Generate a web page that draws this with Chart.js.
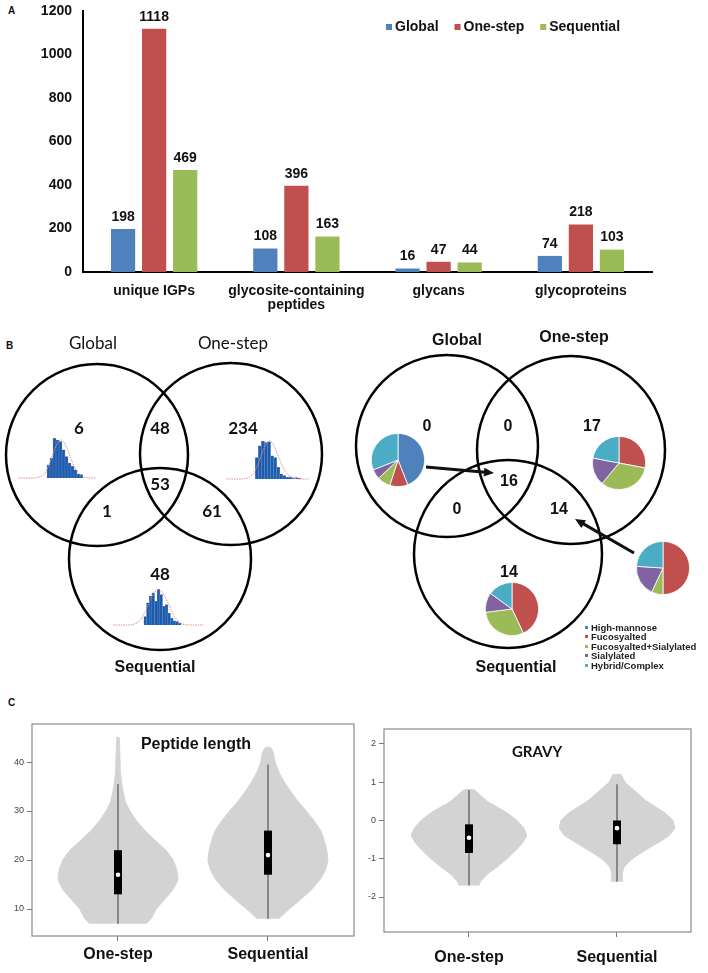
<!DOCTYPE html>
<html>
<head>
<meta charset="utf-8">
<title>Glycopeptide enrichment comparison</title>
<script src="https://cdn.jsdelivr.net/npm/chart.js@4.4.1/dist/chart.umd.min.js"></script>
<style>
  body { margin: 0; background: #fff; }
  #page { position: relative; width: 708px; height: 973px; overflow: hidden; }
  canvas { position: absolute; }
  .panel { position: absolute; font: bold 10px "Liberation Sans", Arial, sans-serif; color: #111; }
  #pieLegend { position: absolute; left: 585px; top: 623px; font: bold 9.5px "Liberation Sans", Arial, sans-serif; line-height: 9.4px; color: #222; white-space: nowrap; }
  #pieLegend i { display: inline-block; width: 3px; height: 3px; margin-right: 3px; vertical-align: 2px; }
</style>
</head>
<body>
<div id="page">
  <div class="panel" style="left:8px;top:5px">A</div>
  <div class="panel" style="left:6px;top:340px">B</div>
  <div class="panel" style="left:8px;top:697px">C</div>

  <canvas id="chartA" width="708" height="322" style="left:0;top:0"></canvas>

  <canvas id="vennLeft" width="354" height="365" style="left:0;top:325px"></canvas>
  <canvas id="histGlobal" width="81" height="44" style="left:17px;top:435px"></canvas>
  <canvas id="histOneStep" width="85" height="44" style="left:225px;top:436px"></canvas>
  <canvas id="histSequential" width="93" height="40" style="left:112px;top:586px"></canvas>

  <canvas id="vennRight" width="354" height="365" style="left:354px;top:325px"></canvas>
  <canvas id="pieGlobal" width="54" height="54" style="left:371px;top:433px"></canvas>
  <canvas id="pieOneStep" width="54" height="54" style="left:592px;top:436px"></canvas>
  <canvas id="pieShared" width="54" height="54" style="left:636px;top:541px"></canvas>
  <canvas id="pieSequential" width="54" height="54" style="left:485px;top:582px"></canvas>
  <div id="pieLegend"></div>

  <canvas id="violinLength" width="358" height="273" style="left:0;top:700px"></canvas>
  <canvas id="violinGravy" width="354" height="273" style="left:354px;top:700px"></canvas>
</div>

<script>
// ---- A: identifications per enrichment method
const categories = ['unique IGPs', ['glycosite-containing', 'peptides'], 'glycans', 'glycoproteins'];
const methods = ['Global', 'One-step', 'Sequential'];
const methodColors = ['#4F81BD', '#C0504D', '#9BBB59'];
const globalCounts = [198, 108, 16, 74];
const oneStepCounts = [1118, 396, 47, 218];
const sequentialCounts = [469, 163, 44, 103];
const countTicks = [0, 200, 400, 600, 800, 1000, 1200];

// ---- B: overlaps (Global only, Global&One-step, One-step only, all three, Global&Sequential, One-step&Sequential, Sequential only)
const vennSets = ['Global', 'One-step', 'Sequential'];
const igpOverlap = [6, 48, 234, 53, 1, 61, 48];
const glycanOverlap = [0, 0, 17, 16, 0, 14, 14];

// mass-error histograms (bar counts start at binStart) and fitted curve
const globalHistBins = [40, 60, 120, 115, 110, 85, 65, 45, 35, 25, 12, 10];
const globalHistCurve = [0, 0, 0, 0, 0, 0, 1, 3, 8, 18, 36, 60, 85, 105, 115, 110, 93, 70, 47, 28, 15, 7, 3, 1, 0, 0, 0];
const oneStepHistBins = [65, 100, 115, 110, 112, 70, 65, 35, 15, 10, 5, 6, 2, 4, 3];
const oneStepHistCurve = [0, 0, 0, 0, 0, 0, 1, 3, 8, 18, 36, 60, 85, 105, 115, 110, 93, 70, 47, 28, 15, 7, 3, 1, 0, 0, 0, 0];
const seqHistBins = [25, 65, 85, 95, 70, 105, 90, 55, 60, 35, 20, 12, 10, 5];
const seqHistCurve = [0, 0, 0, 0, 0, 0, 0, 1, 3, 7, 14, 25, 40, 58, 75, 90, 100, 104, 100, 90, 75, 58, 40, 25, 14, 7, 3, 1, 0, 0, 0, 0, 0, 0, 0];

// glycan type composition (%)
const glycanTypes = ['High-mannose', 'Fucosyalted', 'Fucosyalted+Sialylated', 'Sialylated', 'Hybrid/Complex'];
const glycanTypeColors = ['#4F81BD', '#C0504D', '#9BBB59', '#8064A2', '#4BACC6'];
const globalGlycanMix = [44, 11, 8, 6, 31];
const oneStepGlycanMix = [0, 28, 33, 17, 22];
const sharedGlycanMix = [0, 50, 7, 19, 24];
const seqGlycanMix = [0, 43, 30, 12, 15];

// ---- C: violin profiles (level, relative half width) and box stats [min, q1, median, q3, upper whisker]
const violinGroups = ['One-step', 'Sequential'];
const lengthOneStepLevels = [7, 8, 10, 12, 14, 16, 18, 20, 22, 24, 26, 28, 30, 32, 35, 38, 42, 45];
const lengthOneStepWidths = [0.47, 0.55, 0.64, 0.78, 0.92, 1.0, 0.98, 0.92, 0.8, 0.62, 0.45, 0.31, 0.2, 0.12, 0.07, 0.04, 0.03, 0.02];
const lengthSeqLevels = [8, 9, 10, 12, 14, 16, 18, 20, 22, 24, 26, 28, 30, 32, 34, 36, 38, 40, 42, 43];
const lengthSeqWidths = [0.18, 0.26, 0.36, 0.55, 0.73, 0.87, 0.96, 1.0, 0.98, 0.94, 0.88, 0.77, 0.64, 0.5, 0.38, 0.27, 0.18, 0.12, 0.09, 0.04];
const lengthOneStepBox = [7, 13, 17, 22, 35.5];
const lengthSeqBox = [8, 17, 21, 26, 39.5];
const lengthTicks = [10, 20, 30, 40];
const gravyOneStepLevels = [-1.7, -1.6, -1.4, -1.2, -1.0, -0.8, -0.6, -0.4, -0.2, 0, 0.2, 0.5, 0.8];
const gravyOneStepWidths = [0.17, 0.2, 0.32, 0.5, 0.66, 0.8, 0.92, 1.0, 0.95, 0.83, 0.66, 0.32, 0.09];
const gravySeqLevels = [-1.6, -1.4, -1.2, -1.0, -0.8, -0.6, -0.4, -0.2, 0, 0.2, 0.5, 0.8, 1.0, 1.2];
const gravySeqWidths = [0.1, 0.09, 0.13, 0.27, 0.47, 0.69, 0.9, 1.0, 0.97, 0.83, 0.52, 0.29, 0.14, 0.07];
const gravyOneStepBox = [-1.7, -0.85, -0.45, -0.1, 0.8];
const gravySeqBox = [-1.6, -0.62, -0.2, 0, 0.95];
const gravyTicks = [-2, -1, 0, 1, 2];

const ARIAL = '"Liberation Sans", Arial, sans-serif';
Chart.defaults.animation = false;
Chart.defaults.responsive = false;
Chart.defaults.events = [];
Chart.defaults.font.family = ARIAL;
Chart.defaults.plugins.legend.display = false;
Chart.defaults.plugins.tooltip.enabled = false;

// ---------- A
const barValueLabels = {
  id: 'barValueLabels',
  afterDatasetsDraw(chart) {
    const {ctx} = chart;
    ctx.save();
    ctx.font = 'bold 14px ' + ARIAL;
    ctx.fillStyle = '#111';
    ctx.textAlign = 'center';
    ctx.textBaseline = 'bottom';
    chart.data.datasets.forEach((ds, i) => {
      chart.getDatasetMeta(i).data.forEach((bar, j) => ctx.fillText(ds.data[j], bar.x, bar.y - 5));
    });
    ctx.restore();
  }
};

// legend sits inside the plot, top right
const inlineLegend = {
  id: 'inlineLegend',
  afterDraw(chart) {
    const {ctx} = chart;
    let x = 386;
    const y = 27;
    ctx.save();
    ctx.font = 'bold 14px ' + ARIAL;
    ctx.textBaseline = 'middle';
    ctx.textAlign = 'left';
    chart.data.datasets.forEach(ds => {
      ctx.fillStyle = ds.backgroundColor;
      ctx.fillRect(x, y - 3, 6, 6);
      x += 9;
      ctx.fillStyle = '#111';
      ctx.fillText(ds.label, x, y);
      x += ctx.measureText(ds.label).width + 16;
    });
    ctx.restore();
  }
};

new Chart(document.getElementById('chartA'), {
  type: 'bar',
  data: {
    labels: categories,
    datasets: [globalCounts, oneStepCounts, sequentialCounts].map((d, i) => ({
      label: methods[i], data: d, backgroundColor: methodColors[i],
      categoryPercentage: 0.655, barPercentage: 0.78
    }))
  },
  options: {
    layout: { padding: { left: 0, right: 56, top: 11, bottom: 0 } },
    scales: {
      x: {
        grid: { display: false, drawTicks: false },
        border: { color: '#000', width: 2 },
        ticks: { color: '#111', padding: 12, maxRotation: 0, font: { size: 14, weight: 'bold', lineHeight: 1.0 } },
        afterFit: s => { s.height = 50; }
      },
      y: {
        min: 0, max: 1200,
        afterBuildTicks: s => { s.ticks = countTicks.map(v => ({ value: v })); },
        grid: { display: false, drawTicks: false },
        border: { color: '#000', width: 2 },
        ticks: { color: '#111', padding: 11, font: { size: 14, weight: 'bold' }, callback: v => String(v) },
        afterFit: s => { s.width = 83; s.paddingTop = 0; s.paddingBottom = 0; }
      }
    }
  },
  plugins: [barValueLabels, inlineLegend]
});

// ---------- B: Venn diagrams
function drawArrow(ctx, from, to) {
  const ang = Math.atan2(to[1] - from[1], to[0] - from[0]);
  const head = 11;
  ctx.lineWidth = 3;
  ctx.beginPath();
  ctx.moveTo(from[0], from[1]);
  ctx.lineTo(to[0] - head * 0.8 * Math.cos(ang), to[1] - head * 0.8 * Math.sin(ang));
  ctx.stroke();
  ctx.beginPath();
  ctx.moveTo(to[0], to[1]);
  ctx.lineTo(to[0] - head * Math.cos(ang - 0.42), to[1] - head * Math.sin(ang - 0.42));
  ctx.lineTo(to[0] - head * Math.cos(ang + 0.42), to[1] - head * Math.sin(ang + 0.42));
  ctx.closePath();
  ctx.fill();
}

function vennLabels(cfg) {
  return {
    id: 'vennLabels',
    afterDatasetsDraw(chart) {
      const {ctx, scales: {x, y}} = chart;
      const px = p => [x.getPixelForValue(p[0]), y.getPixelForValue(p[1])];
      ctx.save();
      ctx.fillStyle = '#111';
      ctx.strokeStyle = '#111';
      ctx.textAlign = 'center';
      ctx.textBaseline = 'middle';
      (cfg.arrows || []).forEach(a => drawArrow(ctx, px(a[0]), px(a[1])));
      vennSets.forEach((name, i) => {
        ctx.font = cfg.nameFonts[i];
        const [X, Y] = px(cfg.namePos[i]);
        ctx.fillText(name, X, Y);
      });
      ctx.font = cfg.countFont;
      cfg.counts.forEach((n, i) => {
        const [X, Y] = px(cfg.countPos[i]);
        ctx.fillText(String(n), X, Y);
      });
      ctx.restore();
    }
  };
}

function vennChart(id, frame, cfg) {
  new Chart(document.getElementById(id), {
    type: 'bubble',
    data: {
      datasets: [{
        data: cfg.circles.map((c, i) => ({ x: c[0], y: c[1], r: cfg.radii[i] })),
        backgroundColor: 'rgba(0,0,0,0)', borderColor: '#000', borderWidth: 2.5, clip: false
      }]
    },
    options: {
      layout: { padding: 0, autoPadding: false },
      scales: {
        x: { display: false, min: frame[0], max: frame[0] + frame[2] },
        y: { display: false, min: frame[1], max: frame[1] + frame[3], reverse: true }
      }
    },
    plugins: [vennLabels(cfg)]
  });
}

vennChart('vennLeft', [0, 325, 354, 365], {
  circles: [[97, 455], [231, 454], [160, 559]],
  radii: [91, 91, 91],
  namePos: [[93, 344], [233, 344], [155, 668]],
  nameFonts: ['17px Lato', '17px Lato', 'bold 16px ' + ARIAL],
  counts: igpOverlap,
  countPos: [[79, 429], [160, 429], [243, 429], [160, 485], [107, 512], [212, 512], [160, 575]],
  countFont: 'bold 17px Lato'
});

vennChart('vennRight', [354, 325, 354, 365], {
  circles: [[447, 446], [571, 450], [508, 554]],
  radii: [91, 94, 94],
  namePos: [[457, 341], [574, 338], [516, 668]],
  nameFonts: ['bold 16px ' + ARIAL, 'bold 16px ' + ARIAL, 'bold 16px ' + ARIAL],
  counts: glycanOverlap,
  countPos: [[427, 427], [508, 427], [592, 427], [509, 482], [457, 510], [559, 510], [509, 573]],
  countFont: 'bold 16px ' + ARIAL,
  arrows: [[[426, 467], [494, 473]], [[634, 553], [575, 519]]]
});

function histChart(id, bins, binStart, curve, yMax) {
  const labels = curve.map((_, i) => i);
  const bars = labels.map(i => (i >= binStart && i < binStart + bins.length) ? bins[i - binStart] : null);
  new Chart(document.getElementById(id), {
    data: {
      labels,
      datasets: [
        { type: 'line', data: curve, borderColor: '#E88A8A', borderWidth: 1, borderDash: [1.5, 1],
          pointRadius: 0, cubicInterpolationMode: 'monotone', clip: false },
        { type: 'bar', data: bars, backgroundColor: '#1E5BAA', borderColor: '#5E8FD0', borderWidth: 0.5,
          barPercentage: 1, categoryPercentage: 1 }
      ]
    },
    options: {
      layout: { padding: 0 },
      scales: { x: { display: false }, y: { display: false, min: -3, max: yMax } }
    }
  });
}
histChart('histGlobal', globalHistBins, 10, globalHistCurve, 130);
histChart('histOneStep', oneStepHistBins, 10, oneStepHistCurve, 130);
histChart('histSequential', seqHistBins, 12, seqHistCurve, 115);

function pieChart(id, mix) {
  new Chart(document.getElementById(id), {
    type: 'pie',
    data: { labels: glycanTypes, datasets: [{ data: mix, backgroundColor: glycanTypeColors, borderColor: '#fff', borderWidth: 0.8 }] },
    options: { layout: { padding: 0 } }
  });
}
pieChart('pieGlobal', globalGlycanMix);
pieChart('pieOneStep', oneStepGlycanMix);
pieChart('pieShared', sharedGlycanMix);
pieChart('pieSequential', seqGlycanMix);

document.getElementById('pieLegend').innerHTML = glycanTypes
  .map((t, i) => `<div><i style="background:${glycanTypeColors[i]}"></i>${t}</div>`).join('');

// ---------- C: violin plots
function plotDecor(title, tx, ty, font) {
  return {
    id: 'plotDecor',
    afterDraw(chart) {
      const {ctx, chartArea: a} = chart;
      ctx.save();
      ctx.strokeStyle = '#8a8a8a';
      ctx.lineWidth = 1.2;
      ctx.strokeRect(a.left, a.top, a.right - a.left, a.bottom - a.top);
      ctx.fillStyle = '#111';
      ctx.font = font;
      ctx.textAlign = 'center';
      ctx.textBaseline = 'middle';
      ctx.fillText(title, tx, ty);
      ctx.restore();
    }
  };
}

function violinChart(id, cfg) {
  const datasets = [];
  cfg.groups.forEach((g, i) => {
    const c = i + 1;
    const [lo, q1, med, q3, hi] = g.box;
    const right = g.levels.map((v, k) => ({ x: c + g.widths[k] * cfg.maxWidth, y: v }));
    const left = g.levels.map((v, k) => ({ x: c - g.widths[k] * cfg.maxWidth, y: v })).reverse();
    datasets.push({ data: [{ x: c, y: med }], pointRadius: 2.3, pointBackgroundColor: '#fff', pointBorderWidth: 0, order: 0 });
    datasets.push({ data: [{ x: c, y: q1 }, { x: c, y: q3 }], showLine: true, borderColor: '#000', borderWidth: 8,
      borderCapStyle: 'butt', pointRadius: 0, order: 1 });
    datasets.push({ data: [{ x: c, y: lo }, { x: c, y: hi }], showLine: true, borderColor: '#555', borderWidth: 1.2,
      pointRadius: 0, order: 2 });
    datasets.push({ data: right.concat(left), showLine: true, fill: 'shape', backgroundColor: '#D3D3D3',
      borderColor: '#D3D3D3', borderWidth: 1, pointRadius: 0, tension: 0.1, order: 3 });
  });
  new Chart(document.getElementById(id), {
    type: 'scatter',
    data: { datasets },
    options: {
      layout: { padding: cfg.padding },
      scales: {
        x: {
          min: cfg.xRange[0], max: cfg.xRange[1],
          afterBuildTicks: s => { s.ticks = violinGroups.map((_, i) => ({ value: i + 1 })); },
          grid: { drawOnChartArea: false, tickLength: 5, color: '#777' },
          border: { display: false },
          ticks: { color: '#111', padding: cfg.labelPad, font: { size: 16, weight: 'bold' },
            callback: v => violinGroups[v - 1] },
          afterFit: s => { s.height = cfg.xHeight; }
        },
        y: {
          min: cfg.yRange[0], max: cfg.yRange[1],
          afterBuildTicks: s => { s.ticks = cfg.ticks.map(v => ({ value: v })); },
          grid: { drawOnChartArea: false, tickLength: 5, color: '#777' },
          border: { display: false },
          ticks: { color: '#444', padding: 3, font: { size: 9 } },
          afterFit: s => { s.width = cfg.yWidth; }
        }
      }
    },
    plugins: [plotDecor(cfg.title, cfg.titlePos[0], cfg.titlePos[1], cfg.titleFont)]
  });
}

violinChart('violinLength', {
  groups: [
    { levels: lengthOneStepLevels, widths: lengthOneStepWidths, box: lengthOneStepBox },
    { levels: lengthSeqLevels, widths: lengthSeqWidths, box: lengthSeqBox }
  ],
  maxWidth: 0.4, xRange: [0.4266, 2.5736], yRange: [4.49, 47.76], ticks: lengthTicks,
  padding: { left: 0, right: 4, top: 24, bottom: 0 }, yWidth: 32, xHeight: 37, labelPad: 4,
  title: 'Peptide length', titlePos: [196, 45], titleFont: 'bold 16px ' + ARIAL
});

violinChart('violinGravy', {
  groups: [
    { levels: gravyOneStepLevels, widths: gravyOneStepWidths, box: gravyOneStepBox },
    { levels: gravySeqLevels, widths: gravySeqWidths, box: gravySeqBox }
  ],
  maxWidth: 0.39, xRange: [0.4257, 2.5], yRange: [-2.915, 2.392], ticks: gravyTicks,
  padding: { left: 0, right: 17, top: 29, bottom: 0 }, yWidth: 30, xHeight: 41, labelPad: 11,
  title: 'GRAVY', titlePos: [183, 52], titleFont: 'bold 15px Lato'
});
</script>
</body>
</html>
